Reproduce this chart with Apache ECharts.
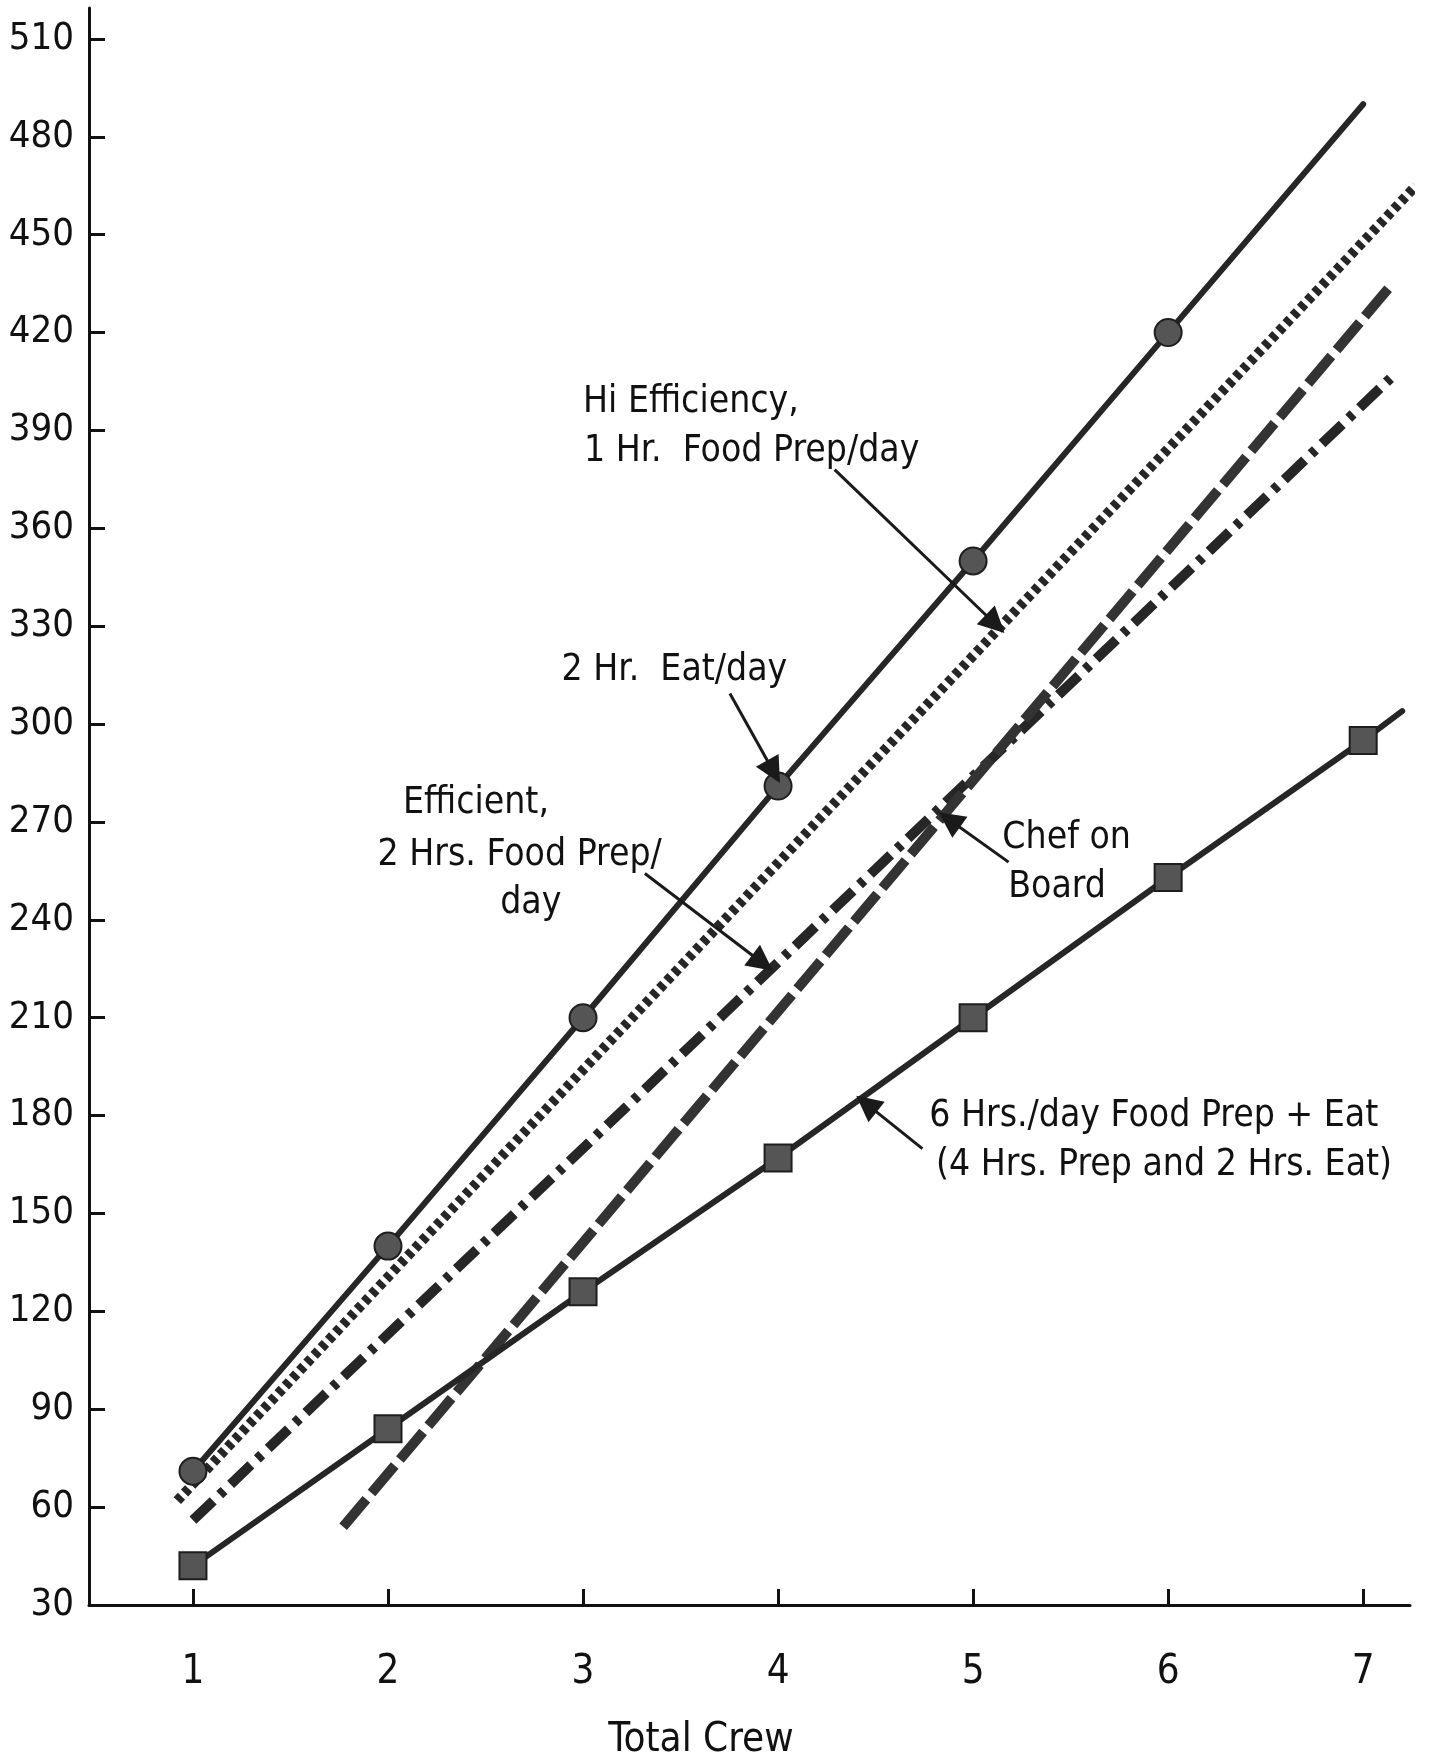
<!DOCTYPE html>
<html>
<head>
<meta charset="utf-8">
<script src="https://cdn.jsdelivr.net/npm/echarts@6/dist/echarts.min.js"></script>
<style>
html,body{margin:0;padding:0;background:#ffffff;}
#chart{width:1437px;height:1754px;}
</style>
</head>
<body>
<div id="chart"></div>
<script>
// ---------- data ----------
const crewTicks = [1, 2, 3, 4, 5, 6, 7];
const yTicks = [30, 60, 90, 120, 150, 180, 210, 240, 270, 300, 330, 360, 390, 420, 450, 480, 510];

// "2 Hr. Eat/day" – solid line with circles (no marker at 7)
const eat2hr = [71, 140, 210, 281, 350, 420, 490];
const eat2hrMarked = [true, true, true, true, true, true, false];

// "6 Hrs./day Food Prep + Eat" – solid line with squares, extends a bit past 7
const prep6hr = [42, 84, 126, 167, 210, 253, 295];
const prep6hrEnd = [7.2, 304];

// straight lines given by their end points [crew, value]
const hiEff = [[0.92, 62], [7.27, 465]];      // Hi Efficiency, 1 Hr. Food Prep/day (dotted)
const efficient = [[1.0, 56], [7.14, 406]];   // Efficient, 2 Hrs. Food Prep/day (dash-dot)
const chef = [[1.77, 54], [7.15, 435]];       // Chef on Board (long dashes)

// annotation texts
const noteTexts = ['Hi Efficiency,', '1 Hr.  Food Prep/day', '2 Hr.  Eat/day', 'Efficient,', '2 Hrs. Food Prep/', 'day', 'Chef on', 'Board', '6 Hrs./day Food Prep + Eat', '(4 Hrs. Prep and 2 Hrs. Eat)'];
const noteX = [3.0, 3.005, 2.89, 2.451, 2.675, 2.732, 5.15, 5.18, 4.775, 4.81];
const noteY = [398.6, 383.5, 316.6, 275.8, 259.9, 245.1, 265.1, 250.1, 179.8, 164.7];
const noteAlign = ['left', 'left', 'left', 'center', 'center', 'center', 'left', 'left', 'left', 'left'];

// annotation arrows [from, to] in [crew, value]
const arrowFrom = [[4.29, 378], [3.753, 309.4], [3.317, 254.2], [5.182, 257.7], [4.74, 169.9]];
const arrowTo = [[5.113, 330.7], [3.977, 285.4], [3.92, 226.8], [4.878, 270.7], [4.453, 183.6]];

const axisName = 'Total Crew';

// ---------- chart ----------
const FONT = '"Liberation Sans Narrow", "DejaVu Sans Condensed", "Roboto Condensed", sans-serif';
const INK = '#111111';
const LINE = '#262626';

const chart = echarts.init(document.getElementById('chart'), null, {renderer: 'canvas'});

const option = {
  animation: false,
  backgroundColor: '#ffffff',
  grid: {left: 89, right: 27, top: 8, bottom: 149, containLabel: false, outerBoundsMode: 'none'},
  xAxis: {
    type: 'value',
    min: 0.467,
    max: 7.24,
    axisLine: {show: true, lineStyle: {color: INK, width: 3}},
    axisTick: {show: true, inside: true, length: 16, customValues: crewTicks, lineStyle: {color: INK, width: 3}},
    axisLabel: {show: true, customValues: crewTicks, fontSize: 40, fontFamily: FONT, color: INK, margin: 48},
    splitLine: {show: false},
    name: axisName,
    nameLocation: 'middle',
    nameGap: 116,
    nameTextStyle: {fontSize: 40, fontFamily: FONT, color: INK, padding: [0, 97, 0, 0]}
  },
  yAxis: {
    type: 'value',
    min: 30,
    max: 519.5,
    axisLine: {show: true, lineStyle: {color: INK, width: 3}},
    axisTick: {show: true, inside: true, length: 16, customValues: yTicks, lineStyle: {color: INK, width: 3}},
    axisLabel: {show: true, customValues: yTicks, fontSize: 38, fontFamily: FONT, color: INK, margin: 15},
    splitLine: {show: false}
  },
  series: [
    {
      name: '2 Hr. Eat/day',
      type: 'line',
      clip: false,
      z: 5,
      symbol: 'circle',
      symbolSize: 27,
      data: crewTicks.map((c, i) => ({value: [c, eat2hr[i]], symbol: eat2hrMarked[i] ? 'circle' : 'none'})),
      lineStyle: {color: LINE, width: 6, cap: 'round'},
      itemStyle: {color: '#555555', borderColor: '#1e1e1e', borderWidth: 2}
    },
    {
      name: '6 Hrs./day Food Prep + Eat',
      type: 'line',
      clip: false,
      z: 5,
      symbol: 'rect',
      symbolSize: 27,
      data: crewTicks.map((c, i) => ({value: [c, prep6hr[i]]})).concat([{value: prep6hrEnd, symbol: 'none'}]),
      lineStyle: {color: LINE, width: 6, cap: 'round'},
      itemStyle: {color: '#555555', borderColor: '#1e1e1e', borderWidth: 2}
    },
    {
      name: 'Hi Efficiency, 1 Hr. Food Prep/day',
      type: 'line',
      clip: false,
      z: 4,
      symbol: 'none',
      data: hiEff,
      lineStyle: {color: LINE, width: 10, type: [6, 4.5], cap: 'butt'}
    },
    {
      name: 'Efficient, 2 Hrs. Food Prep/day',
      type: 'line',
      clip: false,
      z: 4,
      symbol: 'none',
      data: efficient,
      lineStyle: {color: LINE, width: 10, type: [28, 9, 6, 9], cap: 'butt'}
    },
    {
      name: 'Chef on Board',
      type: 'line',
      clip: false,
      z: 4,
      symbol: 'none',
      data: chef,
      lineStyle: {color: '#333333', width: 10, type: [36, 8], cap: 'butt'}
    },
    {
      name: 'arrows',
      type: 'lines',
      coordinateSystem: 'cartesian2d',
      z: 8,
      silent: true,
      symbol: ['none', 'triangle'],
      symbolSize: [20, 26],
      data: arrowFrom.map((f, i) => ({coords: [f, arrowTo[i]]})),
      lineStyle: {color: '#1a1a1a', width: 3, opacity: 1, curveness: 0}
    },
    {
      name: 'notes',
      type: 'scatter',
      z: 9,
      silent: true,
      clip: false,
      symbolSize: 0.1,
      itemStyle: {color: 'rgba(0,0,0,0)', opacity: 1},
      data: noteTexts.map((t, i) => ({
        value: [noteX[i], noteY[i]],
        label: {
          show: true,
          formatter: t,
          position: 'inside',
          align: noteAlign[i],
          verticalAlign: 'middle',
          fontSize: 37,
          fontFamily: FONT,
          color: INK,
          opacity: 1
        }
      }))
    }
  ]
};

chart.setOption(option);
</script>
</body>
</html>
